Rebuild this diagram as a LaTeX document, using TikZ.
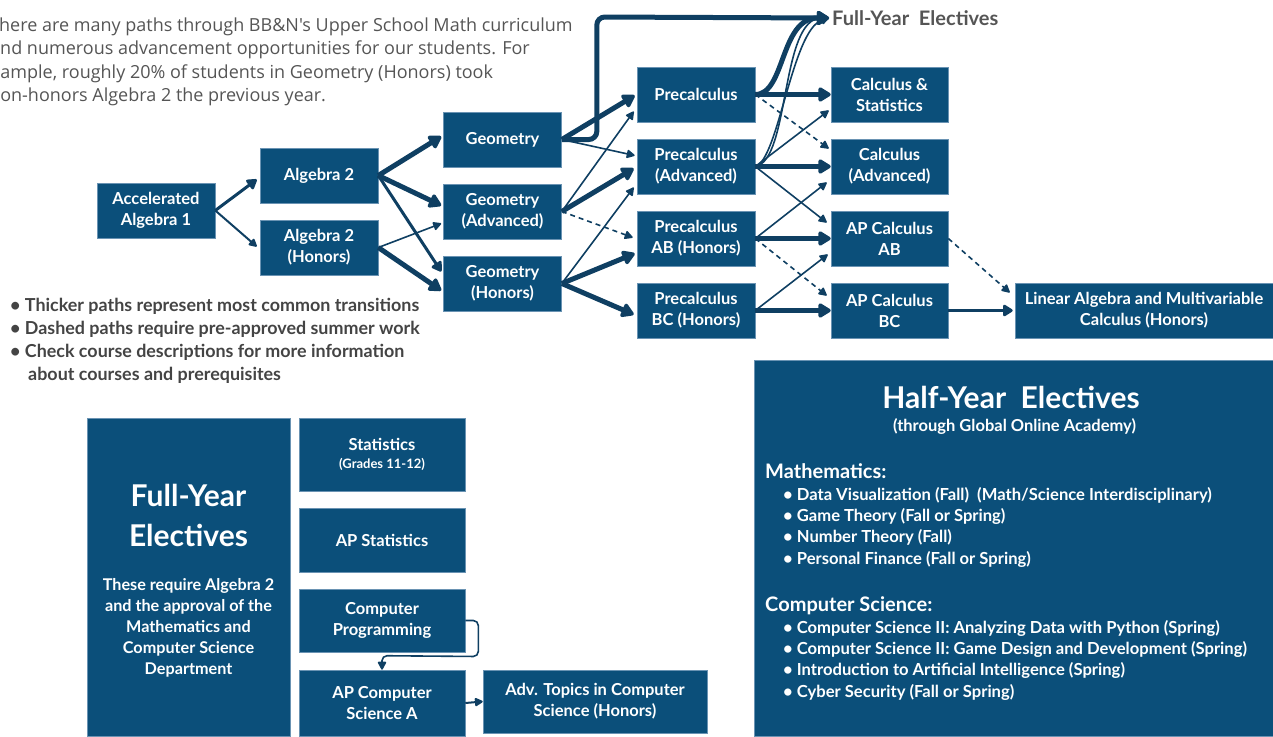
\documentclass[tikz,border=0pt]{standalone}
\usepackage{fontspec}
\setmainfont{Lato}
\newfontfamily\opensans{Open Sans}
\usetikzlibrary{arrows.meta,calc}
\definecolor{boxblue}{HTML}{0B4F7A}
\definecolor{boxedge}{HTML}{6A93B3}
\definecolor{arrowc}{HTML}{0F3F62}
\definecolor{greytext}{HTML}{555555}
\definecolor{bullettext}{HTML}{444444}
\tikzset{
 course/.style={fill=boxblue, draw=boxedge, line width=0.6pt, text=white, align=center, inner sep=0pt,
   minimum width=118pt, minimum height=55pt, font=\bfseries\fontsize{16.5}{21}\selectfont},
 calcbox/.style={course, minimum width=117pt},
 elec/.style={course, minimum width=166pt},
 plainbox/.style={fill=boxblue, draw=boxedge, line width=0.6pt, inner sep=0pt},
 thickarr/.style={draw=arrowc, line width=5pt, -{Triangle[length=14pt,width=16pt,round]}},
 medarr/.style={draw=arrowc, line width=3pt, -{Triangle[length=11pt,width=13pt,round]}},
 thinarr/.style={draw=arrowc, line width=1.6pt, -{Triangle[length=9pt,width=9pt,round]}},
 dasharr/.style={thinarr, dash pattern=on 5pt off 4pt},
 intro/.style={anchor=base west, inner sep=0pt, text=greytext, font=\opensans\fontsize{18}{22}\selectfont},
 note/.style={anchor=base west, inner sep=0pt, text=bullettext, font=\bfseries\fontsize{17.9}{22}\selectfont},
 wtext/.style={text=white, inner sep=0pt},
 item/.style={wtext, anchor=base west, font=\bfseries\fontsize{16.6}{19}\selectfont},
}
\begin{document}
\begin{tikzpicture}[x=1pt,y=-1pt]
\useasboundingbox (0,0) rectangle (1273,736);
\clip (0,0) rectangle (1273,736);

% intro paragraph
\node[intro] (intro1) at (-11,31) {There are many paths through BB\&N's Upper School Math curriculum};
\node[intro] (intro2) at (-10,54.5) {and numerous advancement opportunities for our students. For};
\node[intro] (intro3) at (-19,78) {example, roughly 20\% of students in Geometry (Honors) took};
\node[intro] (intro4) at (-11,101.5) {non-honors Algebra 2 the previous year.};

% notes
\node[note] (n1) at (10,311) {\textbullet\ Thicker paths represent most common transitions};
\node[note] (n2) at (10,334) {\textbullet\ Dashed paths require pre-approved summer work};
\node[note] (n3) at (10,357) {\textbullet\ Check course descriptions for more information};
\node[note] (n4) at (28,380) {about courses and prerequisites};

% course nodes
\node[course] (aa1) at (156,210.5) {Accelerated\\Algebra 1};
\node[course] (alg2) at (319,175.5) {Algebra 2};
\node[course] (alg2h) at (319,247.5) {Algebra 2\\(Honors)};
\node[course] (geo) at (502.5,139.5) {Geometry};
\node[course] (geoa) at (502.5,211.5) {Geometry\\(Advanced)};
\node[course] (geoh) at (502.5,283.5) {Geometry\\(Honors)};
\node[course] (pre) at (696,94.5) {Precalculus};
\node[course] (prea) at (696,166.5) {Precalculus\\(Advanced)};
\node[course] (preab) at (696,238.5) {Precalculus\\AB (Honors)};
\node[course] (prebc) at (696,310.5) {Precalculus\\BC (Honors)};
\node[calcbox] (cs) at (889.5,94.5) {Calculus \&\\Statistics};
\node[calcbox] (calca) at (889.5,166.5) {Calculus\\(Advanced)};
\node[calcbox] (apab) at (889.5,238.5) {AP Calculus\\AB};
\node[calcbox] (apbc) at (889.5,310.5) {AP Calculus\\BC};
\node[course, minimum width=258pt] (la) at (1144,310.5) {Linear Algebra and Multivariable\\Calculus (Honors)};
\node[anchor=west, inner sep=3pt, text=greytext, font=\bfseries\fontsize{20}{24}\selectfont] (fye) at (829,18) {Full-Year\ \ Electives};

% connectors column 1
\draw[medarr] (aa1.east) -- ($(alg2.west)+(-3,4)$);
\draw[thinarr, line width=2pt] (aa1.east) -- ($(alg2h.west)+(-3,-1)$);
% column 2
\draw[thickarr] (alg2.east) -- ($(geo.west)+(-2,-3)$);
\draw[thickarr] (alg2.east) -- ($(geoa.west)+(-2,-6)$);
\draw[medarr] (alg2.east) -- ($(geoh.west)+(-2,-12)$);
\draw[thinarr] (alg2h.east) -- ($(geoa.west)+(-2,12)$);
\draw[thickarr] (alg2h.east) -- ($(geoh.west)+(-2,7)$);
% column 3
\draw[thickarr, rounded corners=8pt] (geo.east) -- ($(geo.east)+(35,0)$) -- ($(geo.east)+(35,-122.5)$) -- (fye.west);
\draw[thickarr] (geo.east) -- ($(pre.west)+(-2,1)$);
\draw[thinarr] (geo.east) -- ($(prea.west)+(-2,-11)$);
\draw[thinarr] (geoa.east) -- ($(pre.west)+(-3,17)$);
\draw[thickarr] (geoa.east) -- ($(prea.west)+(-3,2)$);
\draw[dasharr] (geoa.east) -- ($(preab.west)+(-4,-1)$);
\draw[thinarr] (geoh.east) -- ($(prea.west)+(-3,21)$);
\draw[thickarr] (geoh.east) -- ($(preab.west)+(-2,15)$);
\draw[thickarr] (geoh.east) -- ($(prebc.west)+(-3,4)$);
% column 4
\draw[thinarr] (prea.east) .. controls ($(prea.east)+(35,-6)$) and ($(fye.west)+(-49,0)$) .. (fye.west);
\draw[thinarr] (prea.east) .. controls ($(prea.east)+(23,-6)$) and ($(fye.west)+(-37,12)$) .. (fye.west);
\draw[thickarr] (pre.east) .. controls ($(pre.east)+(30,0)$) and ($(fye.west)+(-49,0)$) .. (fye.west);
\draw[thickarr] (pre.east) -- (cs.west);
\draw[dasharr] (pre.east) -- ($(calca.west)+(-2,-18)$);
\draw[thinarr] (prea.east) -- ($(cs.west)+(-2,16)$);
\draw[thickarr] (prea.east) -- (calca.west);
\draw[thinarr] (prea.east) -- ($(apab.west)+(-4,-16)$);
\draw[thinarr] (preab.east) -- ($(calca.west)+(-4,16)$);
\draw[thickarr] (preab.east) -- (apab.west);
\draw[dasharr] (preab.east) -- ($(apbc.west)+(-4,-15)$);
\draw[thinarr] (prebc.east) -- ($(apab.west)+(-3,16)$);
\draw[thickarr] (prebc.east) -- (apbc.west);
% column 5
\draw[dasharr] (apab.east) -- ($(la.west)+(-5,-18)$);
\draw[medarr] (apbc.east) -- ($(la.west)+(-2,0)$);

% Full-year electives block
\node[plainbox, minimum width=203pt, minimum height=318pt] (fyebox) at (188.5,577) {};
\node[wtext, anchor=base, font=\bfseries\fontsize{30}{36}\selectfont] (fyet1) at (188.5,506) {Full-Year};
\node[wtext, anchor=base, font=\bfseries\fontsize{30}{36}\selectfont] (fyet2) at (188.5,546) {Electives};
\node[wtext, anchor=north, align=center, font=\bfseries\fontsize{16.2}{21}\selectfont] (fyedesc) at (188.5,578)
  {These require Algebra 2\\and the approval of the\\Mathematics and\\Computer Science\\Department};
\node[elec, minimum height=73pt] (stat) at (382,454.5) {Statistics\\[-3pt]{\fontsize{13}{15}\selectfont (Grades 11-12)}};
\node[elec, minimum height=64pt] (apstat) at (382,540) {AP Statistics};
\node[elec, minimum height=63pt] (cprog) at (382,620.5) {Computer\\Programming};
\node[elec, minimum height=66pt] (apcs) at (382,703) {AP Computer\\Science A};
\node[course, minimum width=224pt, minimum height=63pt] (adv) at (595,701.5) {Adv. Topics in Computer\\Science (Honors)};
\draw[thinarr, rounded corners=5pt] (cprog.east) -- ($(cprog.east)+(13,0)$) -- ($(cprog.east)+(13,36)$) -- ($(apcs.north)+(0,-14)$) -- (apcs.north);
\draw[thinarr, line width=2pt] (apcs.east) -- (adv.west);

% Half-year electives block
\node[plainbox, minimum width=519pt, minimum height=376pt] (half) at (1013.5,548) {};
\node[wtext, anchor=base, font=\bfseries\fontsize{30}{36}\selectfont] (halftitle) at (1011,408) {Half-Year\ \ Electives};
\node[wtext, anchor=base, font=\bfseries\fontsize{16.5}{19}\selectfont] (halfsub) at (1014.5,431) {(through Global Online Academy)};
\node[wtext, anchor=base west, font=\bfseries\fontsize{20}{24}\selectfont] (mathhead) at (765,478) {Mathematics:};
\foreach \t [count=\i] in {{Data Visualization (Fall)\ \ (Math/Science Interdisciplinary)},{Game Theory (Fall or Spring)},{Number Theory (Fall)},{Personal Finance (Fall or Spring)}}
  \node[item] (m\i) at (783,479+21.3*\i) {\textbullet\ \t};
\node[wtext, anchor=base west, font=\bfseries\fontsize{20}{24}\selectfont] (cshead) at (765,611) {Computer Science:};
\foreach \t [count=\i] in {{Computer Science II: Analyzing Data with Python (Spring)},{Computer Science II: Game Design and Development (Spring)},{Introduction to Artificial Intelligence (Spring)},{Cyber Security (Fall or Spring)}}
  \node[item] (c\i) at (783,612+21.3*\i) {\textbullet\ \t};
\end{tikzpicture}
\end{document}
